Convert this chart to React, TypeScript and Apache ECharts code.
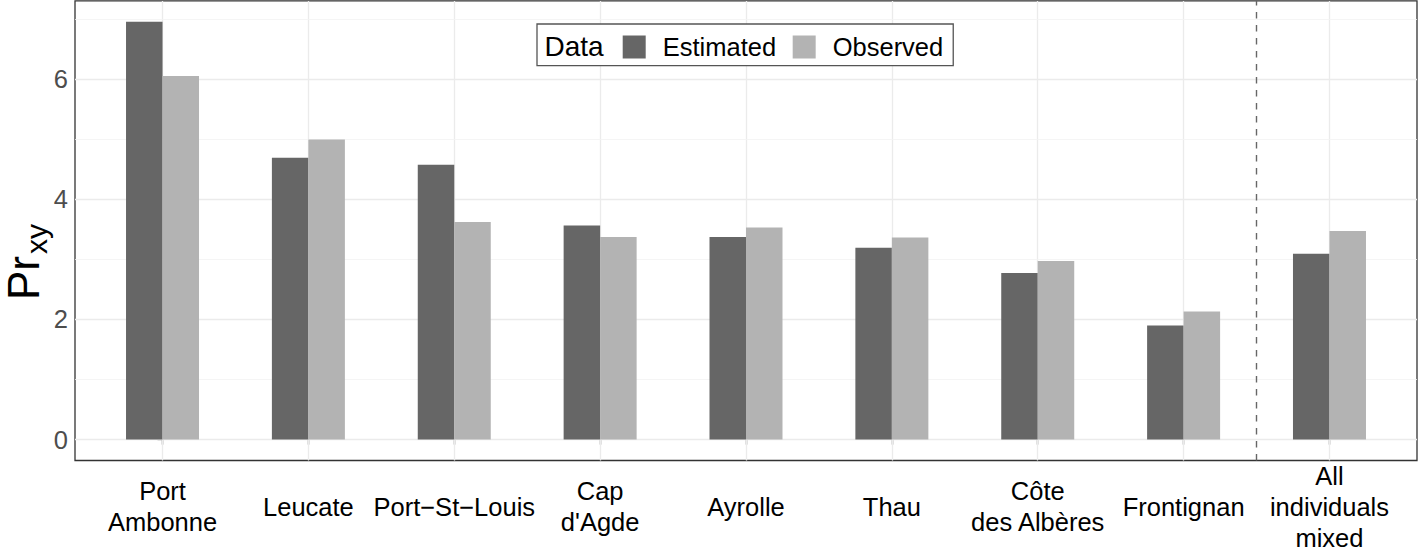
import React, { useEffect, useRef } from "react";
import * as echarts from "echarts";

const categories = [
  "Port\nAmbonne",
  "Leucate",
  "Port\u2212St\u2212Louis",
  "Cap\nd'Agde",
  "Ayrolle",
  "Thau",
  "Côte\ndes Albères",
  "Frontignan",
  "All\nindividuals\nmixed",
];
const estimated = [6.95, 4.69, 4.57, 3.56, 3.37, 3.19, 2.77, 1.9, 3.09];
const observed = [6.05, 4.99, 3.62, 3.37, 3.53, 3.36, 2.97, 2.13, 3.47];
const yMajorTicks = [0, 2, 4, 6];
const yMinorTicks = [1, 3, 5, 7];
const separatorAt = 7.5;

const FONT = "'Liberation Sans', Arial, Helvetica, sans-serif";

export default function App() {
  const ref = useRef<HTMLDivElement>(null);
  useEffect(() => {
    if (!ref.current) return;
    const chart = echarts.init(ref.current, null, { renderer: "svg" });
    const idx = categories.map((_, i) => i);
    const gridLines = [
      ...idx.map((i) => ({ xAxis: i, lineStyle: { color: "#EBEBEB", width: 1.3, type: "solid" } })),
      ...yMajorTicks.map((v) => ({ yAxis: v, lineStyle: { color: "#EBEBEB", width: 1.3, type: "solid" } })),
      ...yMinorTicks.map((v) => ({ yAxis: v, lineStyle: { color: "#F2F2F2", width: 0.8, type: "solid" } })),
    ];
    chart.setOption({
      animation: false,
      textStyle: { fontFamily: FONT },
      grid: {
        left: 75,
        top: 0.9,
        width: 1342,
        height: 460,
        show: true,
        borderColor: "#333333",
        borderWidth: 1.3,
        backgroundColor: "transparent",
      },
      xAxis: {
        type: "value",
        min: -0.6,
        max: 8.6,
        axisLine: { show: false },
        splitLine: { show: false },
        axisTick: {
          show: true,
          customValues: idx,
          length: 5,
          lineStyle: { color: "#333333", width: 1.3 },
        },
        axisLabel: {
          show: true,
          customValues: idx,
          formatter: (v: number) => categories[Math.round(v)] ?? "",
          color: "#000000",
          fontSize: 25.5,
          lineHeight: 31,
          margin: 46,
          verticalAlign: "middle",
          align: "center",
          fontFamily: FONT,
        },
      },
      yAxis: {
        type: "value",
        min: -0.3475,
        max: 7.2975,
        axisLine: { show: false },
        splitLine: { show: false },
        minorSplitLine: { show: false },
        axisTick: {
          show: true,
          customValues: yMajorTicks,
          length: 5,
          lineStyle: { color: "#333333", width: 1.3 },
        },
        axisLabel: {
          show: true,
          customValues: yMajorTicks,
          formatter: (v: number) => String(v),
          color: "#4D4D4D",
          fontSize: 25.5,
          margin: 7,
          fontFamily: FONT,
        },
      },
      legend: {
        data: ["Estimated", "Observed"],
        left: 537,
        top: 24,
        orient: "horizontal",
        padding: [10, 10, 5.7, 85.7],
        backgroundColor: "#ffffff",
        borderColor: "#555555",
        borderWidth: 1.3,
        borderRadius: 0,
        itemWidth: 23,
        itemHeight: 23,
        itemGap: 16.6,
        icon: "rect",
        selectedMode: false,
        textStyle: {
          fontSize: 25.5,
          color: "#000000",
          padding: [0, 0, 0, 12],
          fontFamily: FONT,
        },
      },
      graphic: [
        {
          type: "text",
          left: 544.5,
          top: 32,
          z: 100,
          style: {
            text: "Data",
            fontSize: 28,
            fill: "#000000",
            fontFamily: FONT,
          },
        },
        {
          type: "text",
          x: 23,
          y: 300,
          rotation: Math.PI / 2,
          style: {
            text: "Pr",
            fontSize: 44,
            fill: "#000000",
            align: "left",
            verticalAlign: "middle",
            fontFamily: FONT,
          },
        },
        {
          type: "text",
          x: 36.5,
          y: 254,
          rotation: Math.PI / 2,
          style: {
            text: "xy",
            fontSize: 30,
            fill: "#000000",
            align: "left",
            verticalAlign: "middle",
            fontFamily: FONT,
          },
        },
      ],
      series: [
        {
          name: "grid",
          type: "line",
          data: [],
          silent: true,
          z: 1,
          markLine: {
            silent: true,
            z: 1,
            symbol: ["none", "none"],
            label: { show: false },
            emphasis: { disabled: true },
            data: gridLines,
          },
        },
        {
          name: "separator",
          type: "line",
          data: [],
          silent: true,
          z: 5,
          markLine: {
            silent: true,
            z: 5,
            symbol: ["none", "none"],
            label: { show: false },
            emphasis: { disabled: true },
            data: [
              {
                xAxis: separatorAt,
                lineStyle: { color: "#666666", width: 1.4, type: [6.5, 6.5] },
              },
            ],
          },
        },
        {
          name: "Estimated",
          type: "bar",
          barWidth: 36.5,
          barGap: "0%",
          itemStyle: { color: "#666666" },
          data: estimated.map((v, i) => [i, v]),
          z: 2,
        },
        {
          name: "Observed",
          type: "bar",
          barWidth: 36.5,
          barGap: "0%",
          itemStyle: { color: "#B3B3B3" },
          data: observed.map((v, i) => [i, v]),
          z: 2,
        },
      ],
    });
    return () => chart.dispose();
  }, []);
  return (
    <div
      ref={ref}
      style={{ position: "fixed", left: 0, top: 0, width: 1419, height: 553, background: "#ffffff" }}
    />
  );
}
